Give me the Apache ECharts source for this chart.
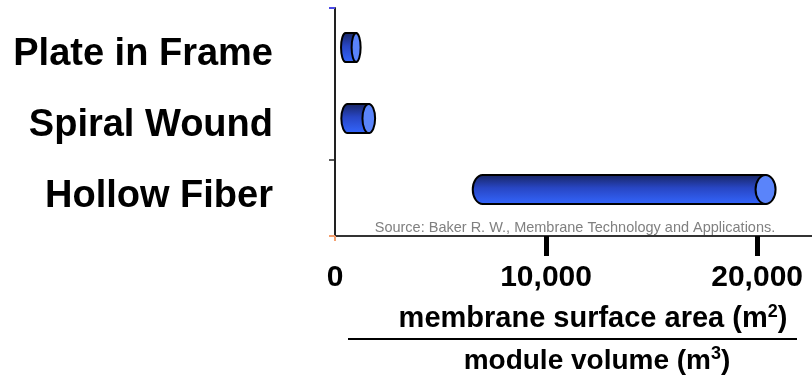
<!DOCTYPE html>
<html>
<head>
<meta charset="utf-8">
<script src="https://cdn.jsdelivr.net/npm/echarts@6/dist/echarts.min.js"></script>
<style>
  html, body { margin: 0; padding: 0; background: #fff; }
  #chart { width: 812px; height: 375px; }
</style>
</head>
<body>
<div id="chart"></div>
<script>
// Module types and their packing-density ranges (m² of membrane per m³ of module)
const categories = ['Plate in Frame', 'Spiral Wound', 'Hollow Fiber'];
const rangeStart = [500, 600, 7000];
const rangeEnd = [1000, 1600, 20400];
const tickLabels = [0, 10000, 20000];
const sourceNote = 'Source: Baker R. W., Membrane Technology and Applications.';

const FONT = '"Liberation Sans", Arial, Helvetica, sans-serif';

const seriesData = categories.map((c, i) => [i, rangeStart[i], rangeEnd[i]]);

// Each range is drawn as a horizontal cylinder: a shaded body with a rounded
// left end and a light elliptical face on the right.
function renderCylinder(params, api) {
  const cat = api.value(0);
  const p0 = api.coord([api.value(1), cat]);
  const p1 = api.coord([api.value(2), cat]);
  const band = api.size([0, 1])[1];
  const h = band * 0.41;
  const ry = h / 2;
  const cy = p0[1];
  const top = cy - ry, bottom = cy + ry;
  const x0 = p0[0], x1 = p1[0];
  const rx = Math.min(10, Math.max(4.5, (x1 - x0) * 0.3));
  const body = 'M' + x0 + ' ' + top + ' L' + x1 + ' ' + top +
    ' L' + x1 + ' ' + bottom + ' L' + x0 + ' ' + bottom +
    ' A' + rx + ' ' + ry + ' 0 0 1 ' + x0 + ' ' + top + ' Z';
  return {
    type: 'group',
    children: [
      {
        type: 'path',
        shape: { pathData: body },
        style: {
          fill: new echarts.graphic.LinearGradient(0, 0, 0, 1, [
            { offset: 0, color: '#17245f' },
            { offset: 0.45, color: '#2846c4' },
            { offset: 1, color: '#3467ff' }
          ]),
          stroke: '#000',
          lineWidth: 2
        }
      },
      {
        type: 'ellipse',
        shape: { cx: x1, cy: cy, rx: rx, ry: ry },
        style: { fill: '#5a84fa', stroke: '#000', lineWidth: 2 }
      }
    ]
  };
}

const chart = echarts.init(document.getElementById('chart'), null, { renderer: 'canvas' });

const valueMin = 0, valueMax = 22600;
const hidden = { show: false };
const noLine = { show: false, onZero: false };

chart.setOption({
  animation: false,
  backgroundColor: '#fff',
  grid: [
    // grid 0: category rows holding the cylinders
    { left: 335, right: 0, top: 12, bottom: 150, containLabel: false },
    // grid 1: the visible frame with its value axis
    { left: 335, right: 0, top: 8, bottom: 139, containLabel: false },
    // grid 2: row captions, sitting slightly lower than the cylinders
    { left: 335, right: 0, top: 19, bottom: 143, containLabel: false }
  ],
  xAxis: [
    {
      gridIndex: 0,
      type: 'value',
      min: valueMin,
      max: valueMax,
      position: 'bottom',
      offset: 11,
      axisLine: noLine,
      axisTick: { show: true, customValues: [0], length: 5, lineStyle: { color: '#f4a070', width: 2 } },
      axisLabel: hidden,
      splitLine: hidden
    },
    {
      gridIndex: 1,
      type: 'value',
      min: valueMin,
      max: valueMax,
      position: 'bottom',
      axisLine: { show: true, onZero: false, lineStyle: { color: '#333', width: 2 } },
      axisTick: {
        show: true,
        customValues: [10000, 20000],
        length: 20,
        lineStyle: { color: '#000', width: 5 }
      },
      axisLabel: {
        customValues: tickLabels,
        margin: 27,
        fontFamily: FONT,
        fontWeight: 'bold',
        fontSize: 30,
        color: '#000',
        formatter: v => v.toLocaleString('en-US')
      },
      splitLine: hidden
    },
    {
      gridIndex: 2,
      type: 'value',
      min: valueMin,
      max: valueMax,
      axisLine: noLine, axisTick: hidden, axisLabel: hidden, splitLine: hidden
    }
  ],
  yAxis: [
    {
      gridIndex: 0,
      type: 'category',
      data: categories,
      inverse: true,
      axisLine: noLine,
      axisTick: hidden,
      axisLabel: hidden
    },
    {
      gridIndex: 1,
      type: 'value', min: 0, max: 3, inverse: true, position: 'left',
      axisLine: { show: true, onZero: false, lineStyle: { color: '#222', width: 2 } },
      axisLabel: hidden, splitLine: hidden,
      axisTick: { show: true, customValues: [2], length: 6, lineStyle: { color: '#222', width: 1.5 } }
    },
    {
      gridIndex: 1,
      type: 'value', min: 0, max: 3, inverse: true, position: 'left',
      axisLine: noLine, axisLabel: hidden, splitLine: hidden,
      axisTick: { show: true, customValues: [0], length: 6, lineStyle: { color: '#4a4ae6', width: 2 } }
    },
    {
      gridIndex: 1,
      type: 'value', min: 0, max: 3, inverse: true, position: 'left',
      axisLine: noLine, axisLabel: hidden, splitLine: hidden,
      axisTick: { show: true, customValues: [3], length: 6, lineStyle: { color: '#f4a070', width: 2 } }
    },
    {
      gridIndex: 2,
      type: 'category',
      data: categories,
      inverse: true,
      axisLine: noLine,
      axisTick: hidden,
      axisLabel: {
        margin: 62,
        fontFamily: FONT,
        fontWeight: 'bold',
        fontSize: 38,
        color: '#000'
      }
    }
  ],
  series: [
    {
      type: 'custom',
      xAxisIndex: 0,
      yAxisIndex: 0,
      encode: { x: [1, 2], y: 0 },
      renderItem: renderCylinder,
      data: seriesData,
      z: 3
    }
  ],
  graphic: [
    {
      type: 'text',
      x: 575, y: 228,
      z: 1,
      style: {
        text: sourceNote,
        fontFamily: FONT,
        fontSize: 14.5,
        fill: '#808080',
        align: 'center',
        verticalAlign: 'middle'
      }
    },
    {
      type: 'text',
      x: 593, y: 319,
      style: {
        text: '{t|membrane surface area (m}{s|2}{t|)}',
        align: 'center',
        verticalAlign: 'middle',
        rich: {
          t: { fontFamily: FONT, fontWeight: 'bold', fontSize: 29, fill: '#000', lineHeight: 32 },
          s: { fontFamily: FONT, fontWeight: 'bold', fontSize: 18, fill: '#000', verticalAlign: 'top', lineHeight: 22 }
        }
      }
    },
    {
      type: 'line',
      shape: { x1: 348, y1: 339, x2: 797, y2: 339 },
      style: { stroke: '#000', lineWidth: 2 }
    },
    {
      type: 'text',
      x: 597, y: 361,
      style: {
        text: '{t|module volume (m}{s|3}{t|)}',
        align: 'center',
        verticalAlign: 'middle',
        rich: {
          t: { fontFamily: FONT, fontWeight: 'bold', fontSize: 28, fill: '#000', lineHeight: 32 },
          s: { fontFamily: FONT, fontWeight: 'bold', fontSize: 18, fill: '#000', verticalAlign: 'top', lineHeight: 22 }
        }
      }
    }
  ]
});
</script>
</body>
</html>
